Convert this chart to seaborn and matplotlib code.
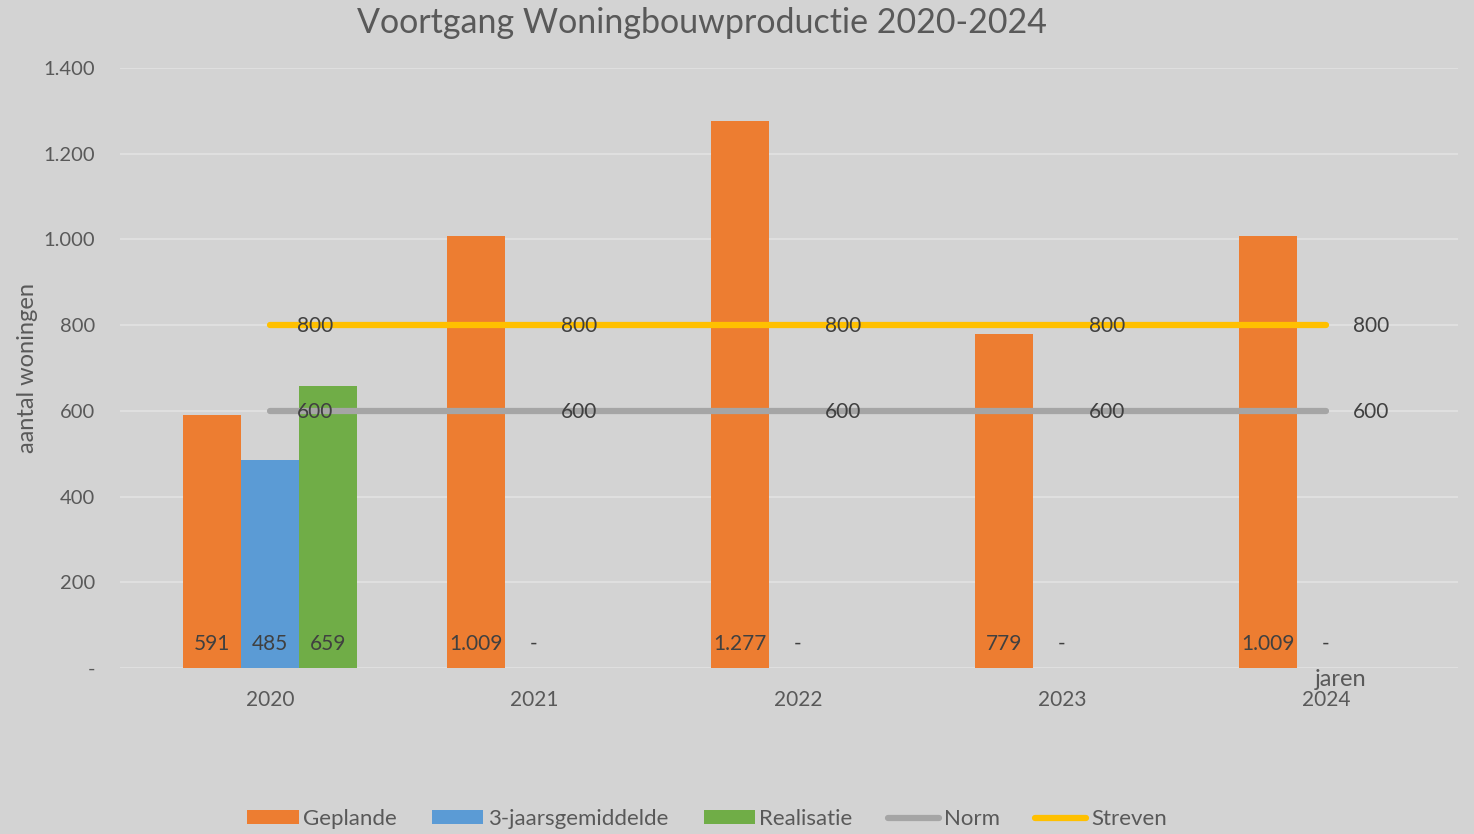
import numpy as np
import pandas as pd
import matplotlib
matplotlib.use("Agg")
import matplotlib.pyplot as plt
from matplotlib.patches import Patch
from matplotlib.lines import Line2D
import seaborn as sns

# ---- data ----
years = ["2020", "2021", "2022", "2023", "2024"]
geplande = [591, 1009, 1277, 779, 1009]
gemiddelde = [485, 0, 0, 0, 0]
realisatie = [659, np.nan, np.nan, np.nan, np.nan]
norm = [600, 600, 600, 600, 600]
streven = [800, 800, 800, 800, 800]
series_names = ["Geplande", "3-jaarsgemiddelde", "Realisatie", "Norm", "Streven"]
title = "Voortgang Woningbouwproductie 2020-2024"
y_label = "aantal woningen"
x_label = "jaren"

colors = {"Geplande": "#ED7D31", "3-jaarsgemiddelde": "#5B9BD5", "Realisatie": "#70AD47",
          "Norm": "#A5A5A5", "Streven": "#FFC000"}

def fmt(v):
    if v == 0:
        return "-"
    return f"{v:,.0f}".replace(",", ".")

sns.set_theme(style="white")
plt.rcParams["font.family"] = ["Lato", "DejaVu Sans"]
bg = "#D3D3D3"
txt = "#595959"

df = pd.DataFrame({
    "jaar": years * 3,
    "serie": [series_names[0]] * 5 + [series_names[1]] * 5 + [series_names[2]] * 5,
    "waarde": geplande + gemiddelde + realisatie,
})

fig = plt.figure(figsize=(14.74, 8.34), dpi=100, facecolor=bg)
ax = fig.add_axes([120 / 1474, 166 / 834, 1338 / 1474, 600 / 834])
ax.set_facecolor(bg)

sns.barplot(data=df, x="jaar", y="waarde", hue="serie", hue_order=series_names[:3],
            order=years, palette=colors, width=0.66, saturation=1, legend=False,
            ax=ax, errorbar=None, edgecolor="none", linewidth=0)

xs = np.arange(len(years))
sns.lineplot(x=xs, y=norm, color=colors["Norm"], lw=4.5, ax=ax, solid_capstyle="round")
sns.lineplot(x=xs, y=streven, color=colors["Streven"], lw=4.5, ax=ax, solid_capstyle="round")

# bar labels at bottom
vals_by_series = [geplande, gemiddelde, realisatie]
for cont, vals in zip(ax.containers, vals_by_series):
    for patch, v in zip(cont.patches, vals):
        if v is None or (isinstance(v, float) and np.isnan(v)):
            continue
        cx = patch.get_x() + patch.get_width() / 2
        ax.text(cx, 56, fmt(v), ha="center", va="center", fontsize=15, color="#404040")

for i in range(len(years)):
    ax.text(i + 0.17, norm[i] - 3, fmt(norm[i]), ha="center", va="center", fontsize=15, color="#404040")
    ax.text(i + 0.17, streven[i] - 3, fmt(streven[i]), ha="center", va="center", fontsize=15, color="#404040")

ax.set_ylim(0, 1400)
ax.set_xlim(-0.568, 4.5)
ax.set_yticks(np.arange(0, 1401, 200))
ax.set_yticklabels([fmt(v) for v in np.arange(0, 1401, 200)])
ax.yaxis.grid(True, color="#E2E2E2", lw=1.2)
ax.set_axisbelow(True)
for s in ax.spines.values():
    s.set_visible(False)
ax.tick_params(axis="both", length=0, labelsize=14.5, colors=txt)
ax.tick_params(axis="y", pad=18)
ax.tick_params(axis="x", pad=16, labelsize=15)
ax.set_xlabel("")
ax.set_ylabel("")

fig.text(28 / 1474, 1 - 368 / 834, y_label, ha="center", va="center", rotation=90,
         fontsize=17, color=txt)
fig.text(702 / 1474, 1 - 23 / 834, title, ha="center", va="center", fontsize=24.5, color=txt)
fig.text(1341 / 1474, 1 - 680 / 834, x_label, ha="center", va="center", fontsize=17, color=txt)

handles = [Patch(facecolor=colors[n], edgecolor="none") for n in series_names[:3]] + \
          [Line2D([0], [0], color=colors[n], lw=4.5, solid_capstyle="round") for n in series_names[3:]]
leg = fig.legend(handles, series_names, loc="center", bbox_to_anchor=(707 / 1474, 15 / 834),
                 ncol=5, frameon=False, fontsize=16, handlelength=2.3, handleheight=0.55,
                 handletextpad=0.2, columnspacing=1.6, labelcolor=txt)

fig.savefig("out.png", dpi=100, facecolor=bg)
